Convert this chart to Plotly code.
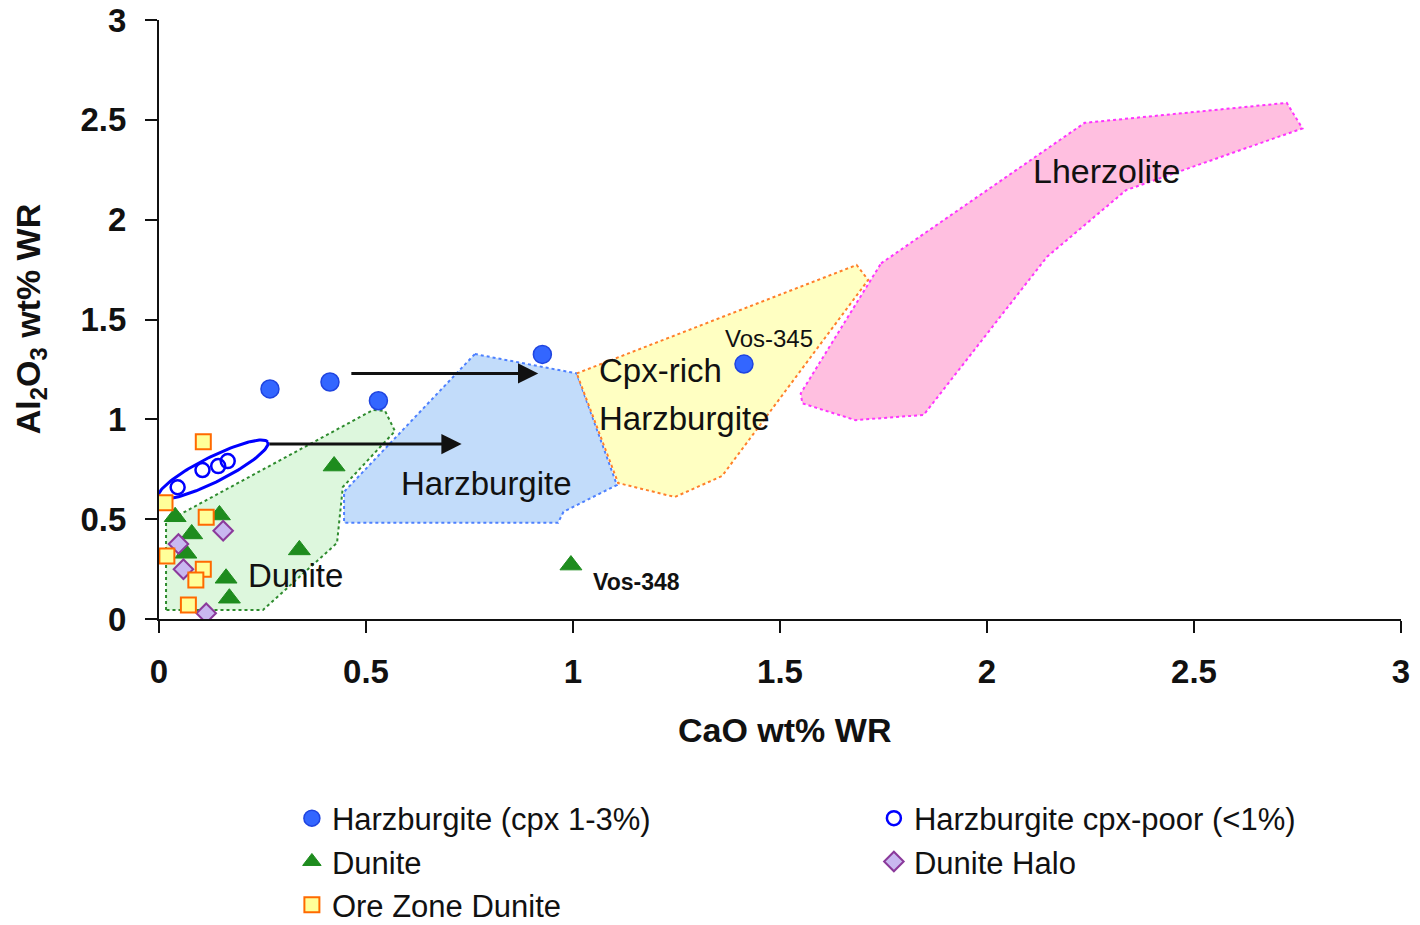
import numpy as np
import plotly.graph_objects as go

FONT = "Liberation Sans"

# ---- sample data: CaO vs Al2O3 (wt% whole rock) ----
harz_cao = [0.268, 0.413, 0.530, 0.926, 1.413]
harz_al = [1.152, 1.187, 1.093, 1.325, 1.277]

poor_cao = [0.045, 0.105, 0.143, 0.166]
poor_al = [0.660, 0.746, 0.766, 0.791]

dunite_cao = [0.039, 0.065, 0.079, 0.146, 0.162, 0.170, 0.339, 0.423, 0.995]
dunite_al = [0.512, 0.329, 0.426, 0.521, 0.204, 0.104, 0.346, 0.766, 0.270]

halo_cao = [0.155, 0.047, 0.059, 0.114]
halo_al = [0.442, 0.376, 0.249, 0.029]

ore_cao = [0.107, 0.0145, 0.114, 0.019, 0.107, 0.089, 0.071]
ore_al = [0.888, 0.582, 0.509, 0.315, 0.249, 0.195, 0.070]

# ---- lithology fields ----
dunite_field_cao = [0.017, 0.017, 0.517, 0.546, 0.570, 0.444, 0.430, 0.251]
dunite_field_al = [0.045, 0.486, 1.047, 1.042, 0.941, 0.661, 0.381, 0.045]

harz_field_cao = [0.763, 1.009, 1.106, 0.977, 0.964, 0.447, 0.447]
harz_field_al = [1.327, 1.230, 0.671, 0.537, 0.482, 0.482, 0.637]

cpx_field_cao = [1.009, 1.685, 1.713, 1.360, 1.246, 1.109]
cpx_field_al = [1.230, 1.773, 1.698, 0.716, 0.611, 0.681]

lherz_field_cao = [1.744, 2.236, 2.724, 2.762, 2.336, 2.145, 1.847, 1.682, 1.554, 1.550]
lherz_field_al = [1.781, 2.485, 2.585, 2.457, 2.148, 1.814, 1.022, 0.996, 1.080, 1.130]

# ---- axes ----
x_range = [0, 3]
y_range = [0, 3]
tick_vals = [0, 0.5, 1, 1.5, 2, 2.5, 3]
tick_text = ["0", "0.5", "1", "1.5", "2", "2.5", "3"]

# plot area in pixels
W, H = 1420, 925
M_L, M_R, M_T, M_B = 159, 19, 20, 306
PW, PH = W - M_L - M_R, H - M_T - M_B

fig = go.Figure()

fields = [
    (dunite_field_cao, dunite_field_al, "#DDF7DD", "#2E8B2E"),
    (harz_field_cao, harz_field_al, "#C2DCFA", "#4D80FF"),
    (cpx_field_cao, cpx_field_al, "#FFFFC2", "#FF7F2A"),
    (lherz_field_cao, lherz_field_al, "#FFBFE0", "#FF33FF"),
]
for fx, fy, fill, edge in fields:
    fig.add_trace(go.Scatter(
        x=fx + fx[:1], y=fy + fy[:1], mode="lines", fill="toself",
        fillcolor=fill, line=dict(color=edge, width=2, dash="dot"),
        showlegend=False, hoverinfo="skip"))

# ellipse grouping the cpx-poor harzburgites (axes given in pixels)
e_cx, e_cy = 0.131, 0.749
e_a, e_b, e_ang = 61.0, 12.5, np.deg2rad(26.6)
t = np.linspace(0, 2 * np.pi, 121)
dx_px = e_a * np.cos(t) * np.cos(e_ang) - e_b * np.sin(t) * np.sin(e_ang)
dy_px = e_a * np.cos(t) * np.sin(e_ang) + e_b * np.sin(t) * np.cos(e_ang)
ex = e_cx + dx_px * (x_range[1] - x_range[0]) / PW
ey = e_cy + dy_px * (y_range[1] - y_range[0]) / PH
fig.add_trace(go.Scatter(x=ex, y=ey, mode="lines",
                         line=dict(color="#0000FF", width=3),
                         showlegend=False, hoverinfo="skip"))

fig.add_trace(go.Scatter(
    x=harz_cao, y=harz_al, mode="markers", name="Harzburgite (cpx 1-3%)",
    marker=dict(symbol="circle", size=18, color="#3366FF",
                line=dict(color="#1F44E0", width=1.5))))
fig.add_trace(go.Scatter(
    x=poor_cao, y=poor_al, mode="markers", name="Harzburgite cpx-poor (<1%)",
    marker=dict(symbol="circle-open", size=14, color="#0000FF",
                line=dict(color="#0000FF", width=2.5))))
fig.add_trace(go.Scatter(
    x=dunite_cao, y=dunite_al, mode="markers", name="Dunite",
    marker=dict(symbol="triangle-up", size=19, color="#1E8C1E",
                line=dict(color="#1E8C1E", width=1))))
fig.add_trace(go.Scatter(
    x=halo_cao, y=halo_al, mode="markers", name="Dunite Halo",
    marker=dict(symbol="diamond", size=15, color="#C9B8F0",
                line=dict(color="#8B3A9B", width=2))))
fig.add_trace(go.Scatter(
    x=ore_cao, y=ore_al, mode="markers", name="Ore Zone Dunite",
    marker=dict(symbol="square", size=15, color="#FFFF99",
                line=dict(color="#FF6A00", width=2))))

# arrows
arrows = [((0.461, 1.230), (0.916, 1.230)), ((0.263, 0.876), (0.731, 0.876))]
for (x0, y0), (x1, y1) in arrows:
    fig.add_annotation(x=x1, y=y1, ax=x0, ay=y0, xref="x", yref="y",
                       axref="x", ayref="y", text="", showarrow=True,
                       arrowhead=2, arrowsize=1.35, arrowwidth=3,
                       arrowcolor="#111111")

labels = [
    ("Harzburgite", 0.792, 0.681, 33, "center", False),
    ("Dunite", 0.329, 0.220, 33, "center", False),
    ("Lherzolite", 2.289, 2.243, 34, "center", False),
    ("Cpx-rich", 1.057, 1.247, 33, "left", False),
    ("Harzburgite", 1.057, 1.006, 33, "left", False),
    ("Vos-345", 1.473, 1.407, 24, "center", False),
    ("Vos-348", 1.154, 0.185, 23, "center", True),
]
for txt, lx, ly, fs, anchor, bold in labels:
    fig.add_annotation(x=lx, y=ly, xref="x", yref="y", showarrow=False,
                       text=f"<b>{txt}</b>" if bold else txt,
                       xanchor=anchor, yanchor="middle",
                       font=dict(family=FONT, size=fs, color="#111111"))

# axis titles
fig.add_annotation(x=0.504, y=-0.1853, xref="paper", yref="paper",
                   showarrow=False, text="<b>CaO wt% WR</b>",
                   xanchor="center", yanchor="middle",
                   font=dict(family=FONT, size=34, color="#111111"))
fig.add_annotation(x=-0.1039, y=0.502, xref="paper", yref="paper",
                   showarrow=False, textangle=-90,
                   text="<b>Al<sub>2</sub>O<sub>3</sub> wt% WR</b>",
                   xanchor="center", yanchor="middle",
                   font=dict(family=FONT, size=34, color="#111111"))

axis_common = dict(
    showgrid=False, zeroline=False, showline=True, linecolor="#111111",
    linewidth=2, ticks="outside", ticklen=12, tickwidth=2,
    tickcolor="#111111", tickmode="array", tickvals=tick_vals,
    ticktext=tick_text,
    tickfont=dict(family=FONT, size=33, color="#111111", weight="bold"),
)
fig.update_xaxes(range=x_range, ticklabelstandoff=10, **axis_common)
fig.update_yaxes(range=y_range, ticklabelstandoff=12, **axis_common)

fig.update_layout(
    width=W, height=H,
    margin=dict(l=M_L, r=M_R, t=M_T, b=M_B, autoexpand=False),
    paper_bgcolor="white", plot_bgcolor="white",
    font=dict(family=FONT, color="#111111"),
    legend=dict(orientation="h", x=0.107, y=-0.288, xanchor="left",
                yanchor="top", entrywidth=537, entrywidthmode="pixels",
                font=dict(family=FONT, size=31, color="#111111"),
                bgcolor="rgba(0,0,0,0)", itemclick=False),
    showlegend=True,
)

fig.write_html("out.html")
